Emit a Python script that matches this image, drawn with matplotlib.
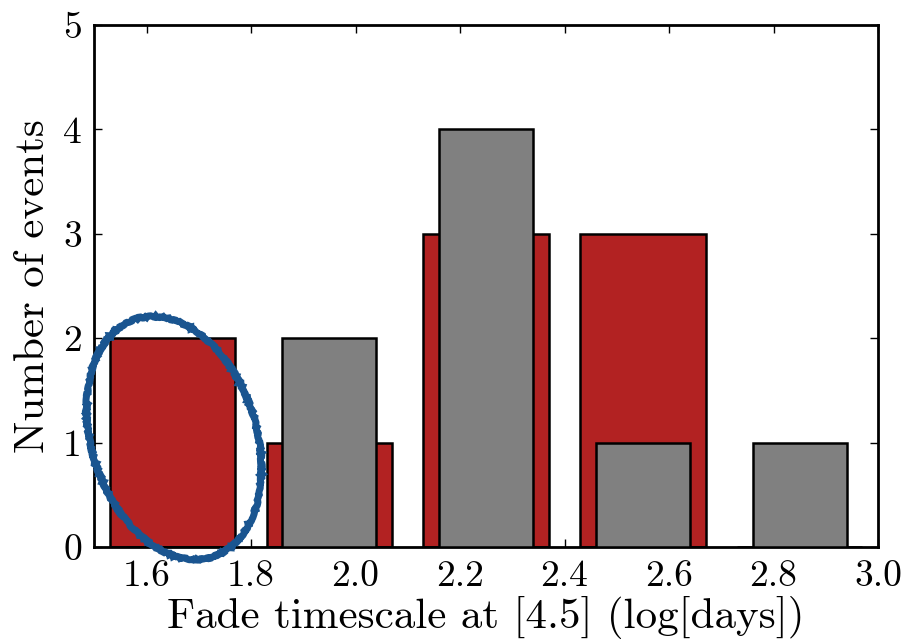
import numpy as np
import matplotlib
matplotlib.use("Agg")
import matplotlib.pyplot as plt
from matplotlib.patches import Ellipse

plt.rcParams['font.family'] = ['cmr10', 'DejaVu Serif']
plt.rcParams['axes.formatter.use_mathtext'] = True

# histogram bins in log(days)
bin_edges = [1.5, 1.8, 2.1, 2.4, 2.7, 3.0]
red_counts = [2, 1, 3, 3, 0]
gray_counts = [0, 2, 4, 1, 1]

xticks = [1.6, 1.8, 2.0, 2.2, 2.4, 2.6, 2.8, 3.0]
yticks = [0, 1, 2, 3, 4, 5]

edges = np.array(bin_edges)
centers = (edges[:-1] + edges[1:]) / 2
binw = edges[1] - edges[0]

fig = plt.figure(figsize=(9.04, 6.44), dpi=100)
ax = fig.add_axes([0.1043, 0.1506, 0.8670, 0.8106])

ax.bar(centers, red_counts, width=0.8 * binw, color='#b22222',
       edgecolor='black', linewidth=1.8, zorder=2)
ax.bar(centers, gray_counts, width=0.6 * binw, color='#808080',
       edgecolor='black', linewidth=1.8, zorder=3)

ax.set_xlim(1.5, 3.0)
ax.set_ylim(0, 5)
ax.set_xticks(xticks)
ax.set_xticklabels(['%.1f' % t for t in xticks])
ax.set_yticks(yticks)
ax.set_yticklabels([str(t) for t in yticks])
ax.tick_params(direction='in', top=True, right=True, length=6, width=1,
               labelsize=27, pad=9)
for s in ax.spines.values():
    s.set_linewidth(2)

ax.set_xlabel('Fade timescale at [4.5] (log[days])', fontsize=31, labelpad=2)
ax.set_ylabel('Number of events', fontsize=31, labelpad=8)

# hand-drawn ring around the first bin
ring = Ellipse((1.74, 2.06), width=1.65, height=2.5, angle=18,
               transform=fig.dpi_scale_trans, fill=False,
               edgecolor='#1a5590', linewidth=5, zorder=10, clip_on=False)
ring.set_sketch_params(scale=0.8, length=4, randomness=40)
fig.add_artist(ring)

fig.savefig('out.png', dpi=100)
